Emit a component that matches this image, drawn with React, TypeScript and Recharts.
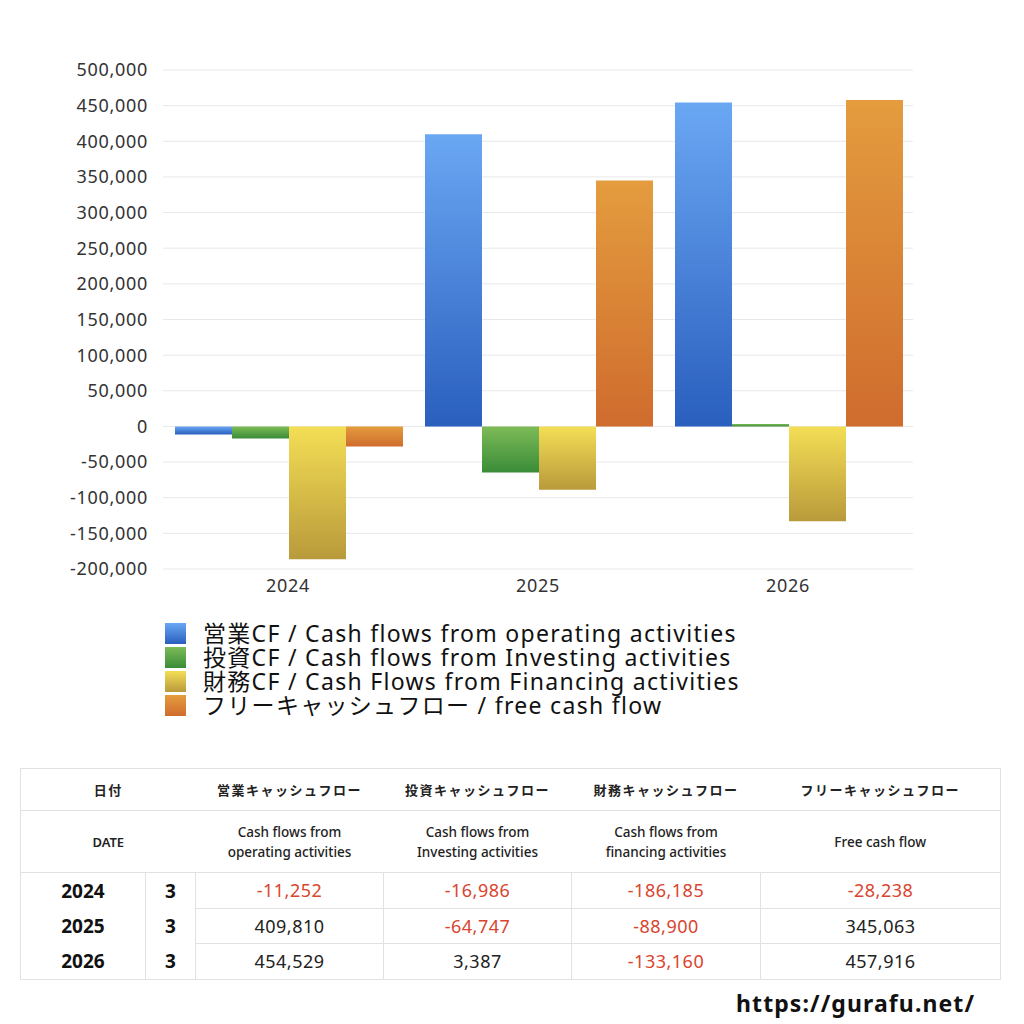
import { BarChart, Bar, XAxis, YAxis, CartesianGrid } from "recharts";

const years = ["2024", "2025", "2026"];
const months = ["3", "3", "3"];
const operating = [-11252, 409810, 454529];
const investing = [-16986, -64747, 3387];
const financing = [-186185, -88900, -133160];
const freeCash = [-28238, 345063, 457916];
const yTicks = [500000, 450000, 400000, 350000, 300000, 250000, 200000, 150000, 100000, 50000, 0, -50000, -100000, -150000, -200000];

const legendLabels = [
  "営業CF / Cash flows from operating activities",
  "投資CF / Cash flows from Investing activities",
  "財務CF / Cash Flows from Financing activities",
  "フリーキャッシュフロー / free cash flow",
];

const FONT = '"Noto Sans", "Noto Sans CJK JP", sans-serif';

// top → bottom gradient stops per series
const gradients = [
  { id: "gOp", top: "#6aa7f3", bottom: "#2a5fbe" },
  { id: "gInv", top: "#7dbb57", bottom: "#3a8c38" },
  { id: "gFin", top: "#f4de55", bottom: "#b99a3b" },
  { id: "gFree", top: "#e49c3e", bottom: "#cf6c2e" },
];

const chartData = years.map((y, i) => ({
  year: y,
  operating: operating[i],
  investing: investing[i],
  financing: financing[i],
  freeCash: freeCash[i],
}));

const fmt = (v: number) => v.toLocaleString("en-US");

const tableHead = ["営業キャッシュフロー", "投資キャッシュフロー", "財務キャッシュフロー", "フリーキャッシュフロー"];
const tableSub = [
  ["Cash flows from", "operating activities"],
  ["Cash flows from", "Investing activities"],
  ["Cash flows from", "financing activities"],
  ["Free cash flow"],
];

const border = "1px solid #e2e2e2";
const colW = [125, 50, 188, 188, 189, 240];

function CfTable() {
  const cols = [operating, investing, financing, freeCash];
  const headCell = { textAlign: "center" as const, fontSize: 13, fontWeight: 700, letterSpacing: 1.5 };
  return (
    <table
      style={{
        position: "absolute",
        left: 20,
        top: 768,
        width: 980,
        borderCollapse: "collapse",
        tableLayout: "fixed",
        fontFamily: FONT,
        color: "#222",
        border,
      }}
    >
      <colgroup>
        {colW.map((w, i) => (
          <col key={i} style={{ width: w }} />
        ))}
      </colgroup>
      <tbody>
        <tr style={{ height: 42, borderBottom: border }}>
          <td colSpan={2} style={headCell}>日付</td>
          {tableHead.map((h) => (
            <td key={h} style={headCell}>{h}</td>
          ))}
        </tr>
        <tr style={{ height: 62, borderBottom: border }}>
          <td colSpan={2} style={{ textAlign: "center", fontSize: 13, fontWeight: 600 }}>DATE</td>
          {tableSub.map((s, i) => (
            <td key={i} style={{ textAlign: "center", fontSize: 13.5, fontWeight: 500, lineHeight: "20px" }}>
              {s.map((line) => (
                <div key={line}>{line}</div>
              ))}
            </td>
          ))}
        </tr>
        {years.map((y, r) => (
          <tr key={y} style={{ height: 35.5 }}>
            <td style={{ textAlign: "center", fontSize: 19, fontWeight: 700, borderRight: border, color: "#111" }}>{y}</td>
            <td style={{ textAlign: "center", fontSize: 19, fontWeight: 700, borderRight: border, color: "#111" }}>{months[r]}</td>
            {cols.map((c, k) => (
              <td
                key={k}
                style={{
                  textAlign: "center",
                  fontSize: 18,
                  letterSpacing: 0.5,
                  color: c[r] < 0 ? "#d9452f" : "#222",
                  borderRight: border,
                  borderTop: r > 0 ? border : undefined,
                }}
              >
                {fmt(c[r])}
              </td>
            ))}
          </tr>
        ))}
      </tbody>
    </table>
  );
}

export default function App() {
  const tick = { fontSize: 18, fill: "#333", fontFamily: FONT, letterSpacing: 0.7 };
  return (
    <div style={{ position: "absolute", left: 0, top: 0, width: 1024, height: 1024, background: "#fff", fontFamily: FONT }}>
      <BarChart
        width={1024}
        height={600}
        data={chartData}
        margin={{ top: 70, right: 111, left: 0, bottom: 0 }}
        barCategoryGap={12}
        barGap={0}
      >
        <defs>
          {gradients.map((g) => (
            <linearGradient key={g.id} id={g.id} x1="0" y1="0" x2="0" y2="1">
              <stop offset="0%" stopColor={g.top} />
              <stop offset="100%" stopColor={g.bottom} />
            </linearGradient>
          ))}
        </defs>
        <CartesianGrid vertical={false} stroke="#e8e8e8" />
        <XAxis
          dataKey="year"
          axisLine={false}
          tickLine={false}
          tickSize={0}
          tickMargin={10}
          height={31}
          tick={tick}
        />
        <YAxis
          width={163}
          domain={[-200000, 500000]}
          ticks={yTicks}
          interval={0}
          axisLine={false}
          tickLine={false}
          tickSize={0}
          tickMargin={15}
          tickFormatter={fmt}
          tick={tick}
        />
        <Bar dataKey="operating" fill="url(#gOp)" isAnimationActive={false} />
        <Bar dataKey="investing" fill="url(#gInv)" isAnimationActive={false} />
        <Bar dataKey="financing" fill="url(#gFin)" isAnimationActive={false} />
        <Bar dataKey="freeCash" fill="url(#gFree)" isAnimationActive={false} />
      </BarChart>

      <div style={{ position: "absolute", left: 165, top: 621 }}>
        {legendLabels.map((l, i) => (
          <div key={l} style={{ display: "flex", alignItems: "center", height: 24 }}>
            <div
              style={{
                width: 21,
                height: 21,
                marginRight: 17,
                background: `linear-gradient(${gradients[i].top}, ${gradients[i].bottom})`,
              }}
            />
            <span style={{ fontSize: 23, letterSpacing: 1.3, color: "#111", whiteSpace: "nowrap", lineHeight: "24px" }}>{l}</span>
          </div>
        ))}
      </div>

      <CfTable />

      <div
        style={{
          position: "absolute",
          left: 736,
          top: 987,
          fontSize: 23,
          fontWeight: 700,
          color: "#111",
          fontFamily: FONT,
          letterSpacing: 1.1,
        }}
      >
        https://gurafu.net/
      </div>
    </div>
  );
}
